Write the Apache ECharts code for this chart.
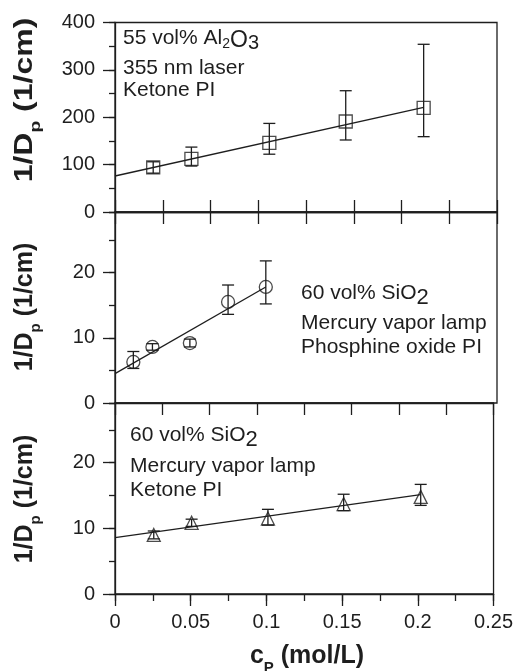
<!DOCTYPE html>
<html>
<head>
<meta charset="utf-8">
<script src="https://cdn.jsdelivr.net/npm/echarts@6/dist/echarts.min.js"></script>
<style>
  html, body { margin: 0; padding: 0; background: #fff; }
  #chart { width: 516px; height: 671px; }
</style>
</head>
<body>
<div id="chart"></div>
<script>
// 55 vol% Al2O3, 355 nm laser, ketone PI
const topX = [0.025, 0.05, 0.101, 0.151, 0.202]
const topY = [94, 112, 146, 191, 220]
const topLow = [82, 97, 122, 152, 159]
const topHigh = [106, 137, 187, 256, 354]
const topFit = [[0, 76], [0.202, 221]]

// 60 vol% SiO2, mercury lamp, phosphine oxide PI
const midX = [0.012, 0.0245, 0.049, 0.074, 0.0987]
const midY = [6.3, 8.6, 9.2, 15.5, 17.8]
const midLow = [5.3, 8.1, 8.6, 13.6, 15.2]
const midHigh = [7.9, 9.1, 9.8, 18.1, 21.8]
const midFit = [[0, 4.5], [0.0987, 17.8]]

// 60 vol% SiO2, mercury lamp, ketone PI
const botX = [0.0256, 0.0506, 0.101, 0.151, 0.2019]
const botY = [9.0, 10.85, 11.5, 13.7, 14.8]
const botLow = [8.4, 10.3, 10.5, 12.7, 13.5]
const botHigh = [9.6, 11.4, 12.9, 15.2, 16.7]
const botFit = [[0, 8.6], [0.2019, 15.15]]

const xTicks = [0, 0.05, 0.1, 0.15, 0.2, 0.25]

const ink = '#1e1e1e'
const font = "'Liberation Sans', Arial, sans-serif"

const chart = echarts.init(document.getElementById('chart'))
const measure = document.createElement('canvas').getContext('2d')

function errorBar(params, api) {
  const x = api.value(0)
  const lo = api.coord([x, api.value(1)])
  const hi = api.coord([x, api.value(2)])
  const w = 6
  const style = { stroke: ink, lineWidth: 1.3 }
  return {
    type: 'group',
    children: [
      { type: 'line', shape: { x1: lo[0], y1: lo[1], x2: hi[0], y2: hi[1] }, style },
      { type: 'line', shape: { x1: lo[0] - w, y1: lo[1], x2: lo[0] + w, y2: lo[1] }, style },
      { type: 'line', shape: { x1: hi[0] - w, y1: hi[1], x2: hi[0] + w, y2: hi[1] }, style },
    ],
  }
}

const axisLine = { show: true, onZero: false, lineStyle: { color: ink, width: 1.3 } }
const noLine = { show: false, onZero: false }

function xInner(gridIndex, position) {
  return {
    type: 'value', gridIndex, position, min: 0, max: 0.25, interval: 0.03125,
    axisLine, axisLabel: { show: false },
    axisTick: { show: true, inside: true, length: 12, lineStyle: { color: ink, width: 1.3 } },
    splitLine: { show: false },
  }
}

function yMajor(gridIndex, max, interval) {
  return {
    type: 'value', gridIndex, position: 'left', min: 0, max, interval,
    axisLine,
    axisTick: { show: true, length: 12, lineStyle: { color: ink, width: 1.3 } },
    axisLabel: { color: ink, fontSize: 20, fontFamily: font, margin: 20, showMaxLabel: max % interval === 0 },
    splitLine: { show: false },
  }
}

function yMinor(gridIndex, max, interval) {
  return {
    type: 'value', gridIndex, position: 'left', min: 0, max, interval,
    axisLine: noLine,
    axisTick: { show: true, length: 6, lineStyle: { color: ink, width: 1.3 } },
    axisLabel: { show: false },
    splitLine: { show: false },
  }
}

function points(xs, ys, symbol, xAxisIndex, yAxisIndex) {
  return {
    type: 'scatter', xAxisIndex, yAxisIndex, symbol, symbolSize: 13,
    itemStyle: { color: 'rgba(0,0,0,0)', borderColor: ink, borderWidth: 1.3 },
    data: xs.map((x, i) => [x, ys[i]]),
    z: 3,
  }
}

function bars(xs, lows, highs, xAxisIndex, yAxisIndex) {
  return {
    type: 'custom', xAxisIndex, yAxisIndex, renderItem: errorBar,
    data: xs.map((x, i) => [x, lows[i], highs[i]]),
    encode: { x: 0, y: [1, 2] },
    z: 2,
  }
}

function fit(data, xAxisIndex, yAxisIndex) {
  return {
    type: 'line', xAxisIndex, yAxisIndex, data, showSymbol: false,
    lineStyle: { color: ink, width: 1.3 }, z: 2,
  }
}

// text made of runs [text, size, dy], laid out left to right
function runs(parts, weight) {
  let x = 0
  const children = parts.map(([text, size, dy]) => {
    const f = `${weight} ${size}px ${font}`
    measure.font = f
    const el = { type: 'text', x, y: dy, style: { text, font: f, fill: ink, verticalAlign: 'middle' } }
    x += measure.measureText(text).width
    return el
  })
  return { children, width: x }
}

function note(parts, x, y) {
  return { type: 'group', x, y, children: runs(parts, 'normal').children }
}

function title(parts, x, y, rotation, stretch) {
  const r = runs(parts, 'bold')
  r.children.forEach((c) => { c.x -= r.width / 2 })
  return { type: 'group', x, y, rotation, scaleX: stretch, children: r.children }
}

const yTitleParts = [['1/D', 25, 0], ['p', 15, 11], [' (1/cm)', 25, 0]]

chart.setOption({
  animation: false,
  backgroundColor: '#fff',
  grid: [
    { left: 115, right: 19, top: 22.5, height: 189.5, show: true, borderColor: ink, borderWidth: 1.3 },
    { left: 115, right: 19, top: 212, height: 191, show: true, borderColor: ink, borderWidth: 1.3 },
    { left: 115, right: 19, top: 403, height: 191, show: true, borderColor: ink, borderWidth: 1.3 },
  ],
  xAxis: [
    xInner(0, 'bottom'),
    xInner(1, 'top'),
    {
      type: 'value', gridIndex: 2, position: 'bottom', min: 0, max: 0.25, interval: 0.05,
      axisLine,
      axisTick: { show: true, length: 12, lineStyle: { color: ink, width: 1.3 } },
      axisLabel: {
        color: ink, fontSize: 20, fontFamily: font, margin: 18,
        formatter: (v) => (xTicks.some((t) => Math.abs(t - v) < 1e-9) ? String(+v.toFixed(2)) : ''),
      },
      splitLine: { show: false },
    },
    {
      type: 'value', gridIndex: 2, position: 'bottom', min: 0, max: 0.25, interval: 0.025,
      axisLine: noLine, axisLabel: { show: false },
      axisTick: { show: true, length: 7, lineStyle: { color: ink, width: 1.3 } },
      splitLine: { show: false },
    },
    xInner(2, 'top'),
  ],
  yAxis: [
    yMajor(0, 400, 100),
    yMinor(0, 400, 50),
    yMajor(1, 29.3, 10),
    yMinor(1, 29.3, 5),
    yMajor(2, 29.1, 10),
    yMinor(2, 29.1, 5),
  ],
  series: [
    fit(topFit, 0, 0),
    bars(topX, topLow, topHigh, 0, 0),
    points(topX, topY, 'rect', 0, 0),
    fit(midFit, 1, 2),
    bars(midX, midLow, midHigh, 1, 2),
    points(midX, midY, 'circle', 1, 2),
    fit(botFit, 2, 4),
    bars(botX, botLow, botHigh, 2, 4),
    points(botX, botY, 'triangle', 2, 4),
  ],
  graphic: [
    note([['55 vol% Al', 21, 0], ['2', 14, 6], ['O', 23, 3], ['3', 20, 5]], 123, 38),
    note([['355 nm laser', 21, 0]], 123, 68),
    note([['Ketone PI', 21, 0]], 123, 90),
    note([['60 vol% SiO', 21, 0], ['2', 22, 5]], 301, 293),
    note([['Mercury vapor lamp', 21, 0]], 301, 323),
    note([['Phosphine oxide PI', 21, 0]], 301, 347),
    note([['60 vol% SiO', 21, 0], ['2', 22, 5]], 130, 435),
    note([['Mercury vapor lamp', 21, 0]], 130, 466),
    note([['Ketone PI', 21, 0]], 130, 490),
    title(yTitleParts, 25, 100, Math.PI / 2, 1.28),
    title(yTitleParts, 25, 307, Math.PI / 2, 1),
    title(yTitleParts, 25, 499, Math.PI / 2, 1),
    title([['c', 25, 0], ['P', 15, 12], [' (mol/L)', 25, 0]], 307, 656, 0, 1),
  ],
})
</script>
</body>
</html>
